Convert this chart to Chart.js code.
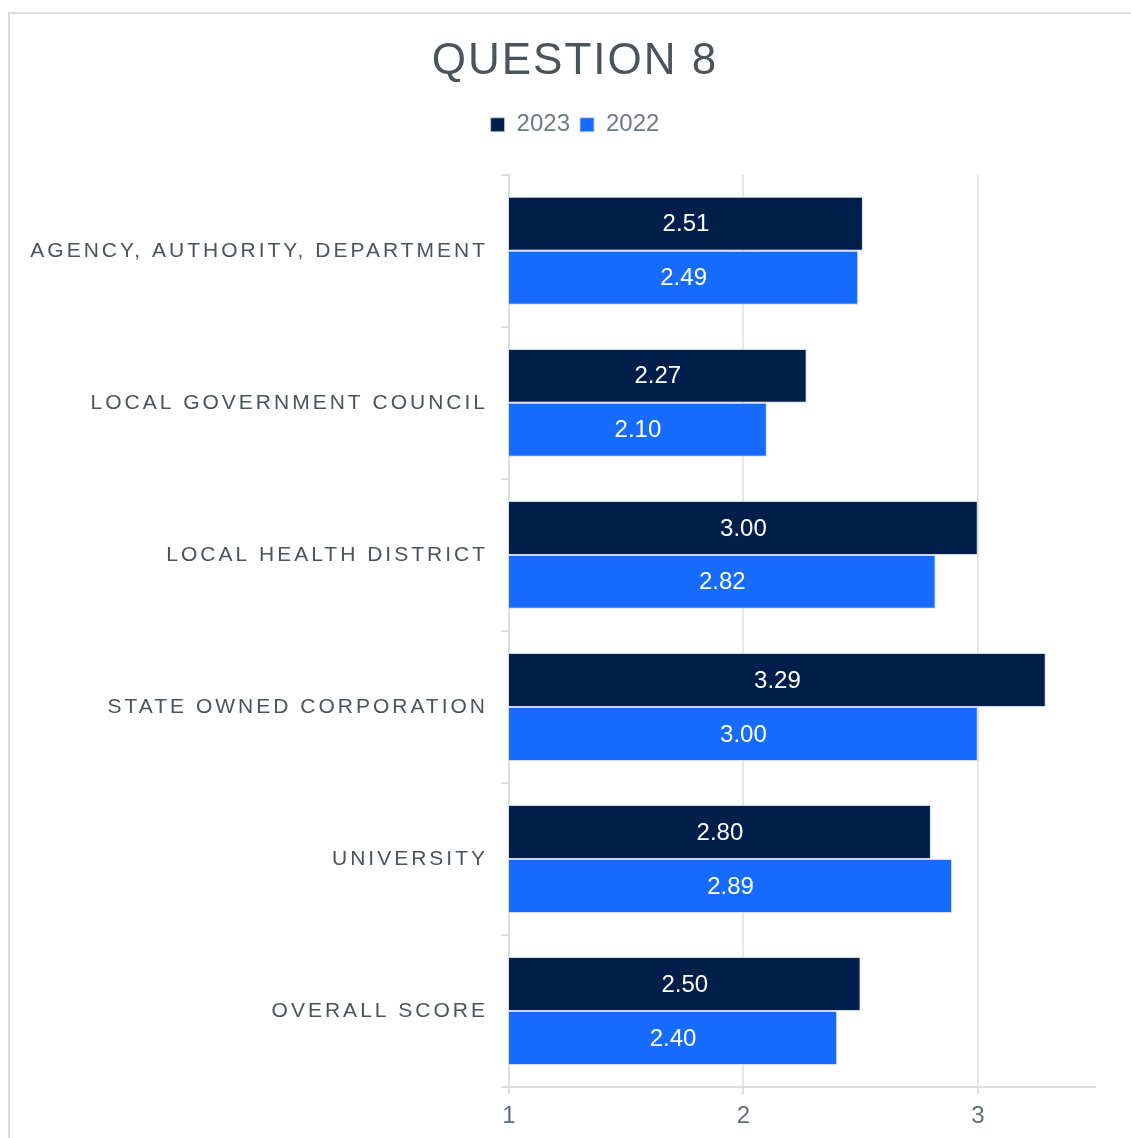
<!DOCTYPE html>
<html>
<head>
<meta charset="utf-8">
<title>Question 8</title>
<script src="https://cdn.jsdelivr.net/npm/chart.js@4/dist/chart.umd.min.js"></script>
<style>
  html, body { margin: 0; padding: 0; background: #fff; overflow: hidden; }
  #frame {
    position: absolute; left: 8px; top: 12px; width: 1200px; height: 1200px;
    border-left: 2px solid #dadde0; border-top: 2px solid #dadde0;
  }
  #chart1 { position: absolute; left: 0; top: 0; }
</style>
</head>
<body>
<div id="frame"></div>
<canvas id="chart1" width="1131" height="1138"></canvas>
<script>
const categories = [
  "AGENCY, AUTHORITY, DEPARTMENT",
  "LOCAL GOVERNMENT COUNCIL",
  "LOCAL HEALTH DISTRICT",
  "STATE OWNED CORPORATION",
  "UNIVERSITY",
  "OVERALL SCORE"
];
const scores2023 = [2.51, 2.27, 3.00, 3.29, 2.80, 2.50];
const scores2022 = [2.49, 2.10, 2.82, 3.00, 2.89, 2.40];
const xTicks = [1, 2, 3];

const FONT = "'Liberation Sans', Arial, sans-serif";

// canvas text spacing for the category labels and the title
const spacingPlugin = {
  id: "spacing",
  afterUpdate(chart) {
    const ctx = chart.ctx;
    const y = chart.scales.y;
    if (y && !y._spaced) {
      const drawLabels = y.drawLabels.bind(y);
      y.drawLabels = (area) => {
        // long labels run past the axis box into the left padding
        const left = y.left;
        y.left = 0;
        ctx.save();
        ctx.letterSpacing = "3px";
        drawLabels(area);
        ctx.restore();
        y.left = left;
      };
      y._spaced = true;
    }
    const t = chart.titleBlock;
    if (t && !t._spaced) {
      const draw = t.draw.bind(t);
      t.draw = () => {
        ctx.save();
        ctx.letterSpacing = "2px";
        draw();
        ctx.restore();
      };
      t._spaced = true;
    }
  }
};

// values written in the middle of each bar
const barLabels = {
  id: "barLabels",
  afterDatasetsDraw(chart) {
    const ctx = chart.ctx;
    const left = chart.chartArea.left;
    ctx.save();
    ctx.font = "24px " + FONT;
    ctx.fillStyle = "#ffffff";
    ctx.textAlign = "center";
    ctx.textBaseline = "middle";
    chart.data.datasets.forEach((ds, i) => {
      chart.getDatasetMeta(i).data.forEach((bar, j) => {
        const start = Math.max(bar.base, left);
        ctx.fillText(ds.data[j].toFixed(2), (start + bar.x) / 2, bar.y + 1);
      });
    });
    ctx.restore();
  }
};

const ctx1 = document.getElementById("chart1").getContext("2d");

new Chart(ctx1, {
  type: "bar",
  data: {
    labels: categories,
    datasets: [
      { label: "2023", data: scores2023, backgroundColor: "#021e4b", borderColor: "rgba(200,210,225,0.8)", borderWidth: 1 },
      { label: "2022", data: scores2022, backgroundColor: "#156cfe", borderColor: "rgba(200,210,225,0.8)", borderWidth: 1 }
    ]
  },
  options: {
    indexAxis: "y",
    responsive: false,
    animation: false,
    categoryPercentage: 0.71,
    barPercentage: 1,
    layout: { padding: { left: 55, right: 36, top: 0, bottom: 0 } },
    plugins: {
      title: {
        display: true,
        text: "QUESTION 8",
        color: "#4b5459",
        font: { family: FONT, size: 44, weight: "normal" },
        padding: { top: 35, bottom: 15 }
      },
      subtitle: {
        display: true,
        text: "",
        weight: 500,
        padding: 0,
        font: { size: 28, lineHeight: 1 }
      },
      legend: {
        position: "top",
        labels: {
          boxWidth: 14,
          boxHeight: 14,
          padding: 10,
          color: "#6b7a8a",
          font: { family: FONT, size: 24 }
        }
      },
      tooltip: { enabled: false }
    },
    scales: {
      x: {
        min: 1,
        max: 3.5,
        afterBuildTicks: (scale) => { scale.ticks = xTicks.map(v => ({ value: v })); },
        grid: { color: "#e6e6e6", lineWidth: 2, tickLength: 7, tickColor: "#dcdfe2" },
        border: { color: "#dcdfe2", width: 2 },
        ticks: { color: "#5f6e7d", padding: 13, font: { family: FONT, size: 24, lineHeight: 0.75 } }
      },
      y: {
        afterFit: (scale) => { scale.width = 454; },
        grid: { drawOnChartArea: false, tickLength: 8, color: "#dcdfe2", lineWidth: 2 },
        border: { color: "#dcdfe2", width: 2 },
        ticks: { color: "#4b5459", padding: 13, font: { family: FONT, size: 21 } }
      }
    }
  },
  plugins: [spacingPlugin, barLabels]
});
</script>
</body>
</html>
